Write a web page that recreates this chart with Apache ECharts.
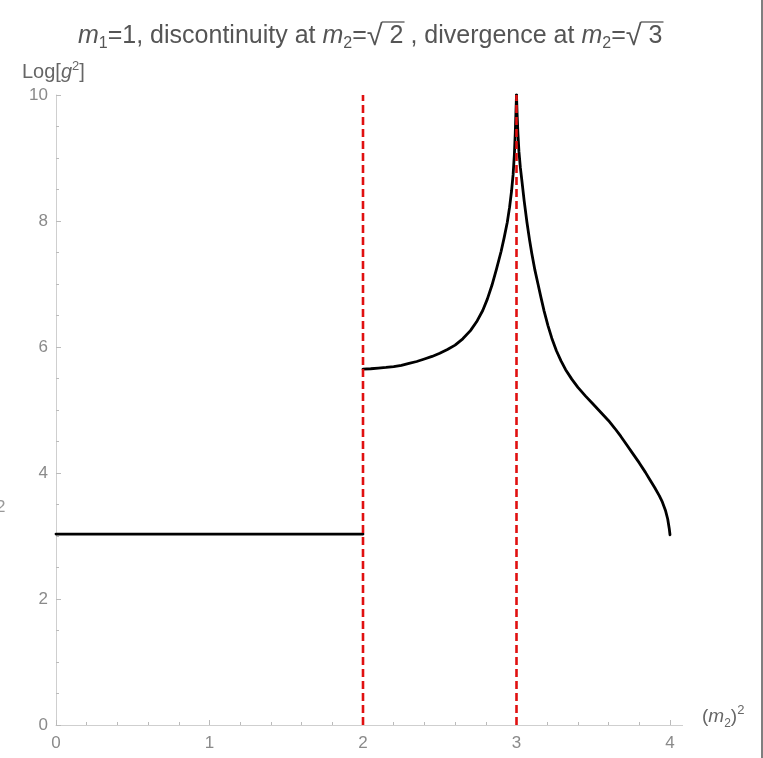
<!DOCTYPE html>
<html>
<head>
<meta charset="utf-8">
<script src="https://cdn.jsdelivr.net/npm/echarts@6/dist/echarts.min.js"></script>
<style>
html,body{margin:0;padding:0;background:#fff;}
#main{width:763px;height:758px;}
</style>
</head>
<body>
<div id="main"></div>
<script>
// ---- data ----
const xTicks = [0, 1, 2, 3, 4];
const yTicks = [0, 2, 4, 6, 8, 10];
const discontinuityX = 2;
const divergenceX = 3;

const seg1X = [0, 2];
const seg1Y = [3.03, 3.03];

const seg2X = [2.00, 2.05, 2.10, 2.15, 2.20, 2.25, 2.30, 2.35, 2.40, 2.45, 2.50, 2.55, 2.60, 2.65, 2.70, 2.74, 2.78, 2.81, 2.84, 2.87, 2.90, 2.92, 2.94, 2.955, 2.968, 2.978, 2.986, 2.992, 2.996, 3.0];
const seg2Y = [5.65, 5.655, 5.665, 5.675, 5.69, 5.71, 5.74, 5.77, 5.81, 5.85, 5.90, 5.96, 6.03, 6.13, 6.26, 6.40, 6.58, 6.76, 6.98, 7.24, 7.52, 7.74, 7.98, 8.22, 8.48, 8.74, 9.05, 9.40, 9.70, 10.0];

const seg3X = [3.0, 3.004, 3.009, 3.016, 3.025, 3.036, 3.05, 3.068, 3.085, 3.10, 3.12, 3.14, 3.16, 3.18, 3.205, 3.23, 3.26, 3.29, 3.32, 3.36, 3.40, 3.45, 3.50, 3.55, 3.60, 3.64, 3.68, 3.72, 3.76, 3.80, 3.84, 3.87, 3.90, 3.93, 3.95, 3.97, 3.985, 3.995, 4.0];
const seg3Y = [10.0, 9.70, 9.40, 9.10, 8.85, 8.62, 8.32, 7.98, 7.70, 7.48, 7.22, 7.00, 6.78, 6.57, 6.34, 6.14, 5.94, 5.78, 5.64, 5.49, 5.36, 5.22, 5.09, 4.96, 4.83, 4.71, 4.58, 4.44, 4.30, 4.16, 4.01, 3.89, 3.77, 3.64, 3.54, 3.41, 3.27, 3.12, 3.02];

const vLineY = [0, 10];

// ---- build ----
const zip = (xs, ys) => xs.map((x, i) => [x, ys[i]]);
const chart = echarts.init(document.getElementById('main'), null, {renderer: 'canvas'});
const FONT = '"Liberation Sans", Arial, sans-serif';
const axisGray = '#cfcfcf';
const labelGray = '#8a8a8a';

const curveStyle = {color: '#000', width: 2.8, cap: 'round', join: 'round'};
const dashStyle = {color: '#e01010', width: 2.6, type: [8, 4]};

const option = {
  animation: false,
  backgroundColor: '#fff',
  grid: {left: 56, right: 93, top: 95, bottom: 33, containLabel: false},
  xAxis: {
    type: 'value', min: 0, max: 4, interval: 1,
    axisLine: {show: true, onZero: false, lineStyle: {color: axisGray, width: 1}},
    axisTick: {show: true, inside: true, length: 5, lineStyle: {color: '#bbb'}},
    minorTick: {show: true, splitNumber: 5, length: 3, lineStyle: {color: '#bbb'}},
    splitLine: {show: false},
    axisLabel: {color: labelGray, fontFamily: FONT, fontSize: 17, margin: 10,
      formatter: v => xTicks.includes(v) ? String(v) : ''}
  },
  yAxis: {
    type: 'value', min: 0, max: 10, interval: 2,
    axisLine: {show: true, onZero: false, lineStyle: {color: axisGray, width: 1}},
    axisTick: {show: true, inside: true, length: 5, lineStyle: {color: '#bbb'}},
    minorTick: {show: true, splitNumber: 4, length: 3, lineStyle: {color: '#bbb'}},
    splitLine: {show: false},
    axisLabel: {color: labelGray, fontFamily: FONT, fontSize: 17, margin: 8,
      formatter: v => yTicks.includes(v) ? String(v) : ''}
  },
  series: [
    {type: 'line', data: zip(seg1X, seg1Y), showSymbol: false, lineStyle: curveStyle, z: 2},
    {type: 'line', data: zip(seg2X, seg2Y), showSymbol: false, lineStyle: curveStyle, z: 2},
    {type: 'line', data: zip(seg3X, seg3Y), showSymbol: false, lineStyle: curveStyle, z: 2},
    {type: 'line', data: vLineY.map(y => [discontinuityX, y]), showSymbol: false, lineStyle: dashStyle, z: 3},
    {type: 'line', data: vLineY.map(y => [divergenceX, y]), showSymbol: false, lineStyle: dashStyle, z: 3}
  ]
};
chart.setOption(option);

// ---- title with overlines computed from text metrics ----
const TS = 25, SS = 16, QS = 29;
const titleColor = '#555';
const titleRich = {
  n: {fontSize: TS, fontFamily: FONT, fill: titleColor, lineHeight: 30},
  r: {fontSize: TS, fontFamily: FONT, fill: titleColor, lineHeight: 30},
  q: {fontSize: QS, fontFamily: FONT, fill: titleColor, lineHeight: 30},
  i: {fontSize: TS, fontFamily: FONT, fill: titleColor, fontStyle: 'italic', lineHeight: 30},
  s: {fontSize: SS, fontFamily: FONT, fill: titleColor, lineHeight: 17, verticalAlign: 'bottom'}
};
const frags = [
  ['i', 'm'], ['s', '1'], ['n', '=1, discontinuity at '], ['i', 'm'], ['s', '2'], ['n', '='], ['q', '√'], ['r', ' 2'],
  ['n', ' , divergence at '], ['i', 'm'], ['s', '2'], ['n', '='], ['q', '√'], ['r', ' 3']
];
const mctx = document.createElement('canvas').getContext('2d');
function fw(style, t) {
  const st = titleRich[style];
  mctx.font = (st.fontStyle === 'italic' ? 'italic ' : '') + st.fontSize + 'px ' + FONT;
  return mctx.measureText(t).width;
}
const titleLeft = 78, titleTop = 22;
let cx = titleLeft;
const overlines = [];
frags.forEach(([s, t]) => {
  const w = fw(s, t);
  if (s === 'r') overlines.push([cx - 1, cx + w + 1]);
  cx += w;
});
const titleText = frags.map(([s, t]) => '{' + s + '|' + t + '}').join('');

const p4 = chart.convertToPixel({gridIndex: 0}, [4, 0]);
const gfx = [
  {type: 'text', left: titleLeft, top: titleTop, style: {text: titleText, rich: titleRich}},
  {type: 'text', left: 22, top: 60, style: {
    text: '{n|Log[}{i|g}{p|2}{n|]}',
    rich: {
      n: {fontSize: 20, fontFamily: FONT, fill: '#666', lineHeight: 25},
      i: {fontSize: 20, fontFamily: FONT, fill: '#666', fontStyle: 'italic', lineHeight: 25},
      p: {fontSize: 13, fontFamily: FONT, fill: '#666', lineHeight: 14, verticalAlign: 'top'}
    }}},
  {type: 'text', left: 702, top: 704, style: {
    text: '{n|(}{i|m}{s|2}{n|)}{p|2}',
    rich: {
      n: {fontSize: 19, fontFamily: FONT, fill: '#666', lineHeight: 26},
      i: {fontSize: 19, fontFamily: FONT, fill: '#666', fontStyle: 'italic', lineHeight: 26},
      s: {fontSize: 12, fontFamily: FONT, fill: '#666', lineHeight: 13, verticalAlign: 'bottom'},
      p: {fontSize: 13, fontFamily: FONT, fill: '#666', lineHeight: 14, verticalAlign: 'top'}
    }}},
  {type: 'text', left: -4, top: 499, style: {text: '2', fontSize: 17, fontFamily: FONT, fill: '#999'}},
  {type: 'line', shape: {x1: p4[0], y1: p4[1] + 0.5, x2: p4[0] + 13, y2: p4[1] + 0.5}, style: {stroke: axisGray, lineWidth: 1}},
  {type: 'line', shape: {x1: 762, y1: 0, x2: 762, y2: 758}, style: {stroke: '#555', lineWidth: 1.5}}
];
overlines.forEach(([a, b]) => gfx.push({type: 'line', shape: {x1: a, y1: 22, x2: b, y2: 22}, style: {stroke: titleColor, lineWidth: 1.3}}));
chart.setOption({graphic: gfx});
</script>
</body>
</html>
